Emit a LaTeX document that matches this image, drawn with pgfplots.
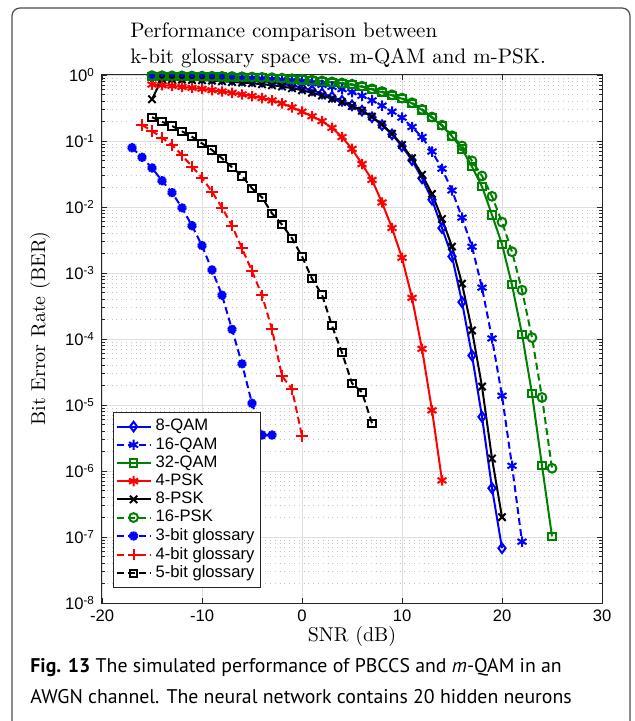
\documentclass[border=0pt]{standalone}
\usepackage{fontspec}
\setsansfont{Liberation Sans}
\newfontfamily\capfont{PT Sans}
\usepackage{pgfplots}
\pgfplotsset{compat=1.18}
\usetikzlibrary{plotmarks}
\definecolor{mgreen}{rgb}{0,0.5,0}
\definecolor{axgray}{rgb}{0.15,0.15,0.15}

\begin{document}
\begin{tikzpicture}
\path[use as bounding box] (0,0) rectangle (317.5pt,360.5pt);
\draw[black!70, line width=0.6pt, rounded corners=4pt]
  (6pt,-2pt) -- (6pt,356.5pt) -- (315pt,356.5pt) -- (315pt,-2pt);
\node[anchor=north west, inner sep=0pt, align=left,
      font=\fontsize{10.5}{13}\selectfont] at (65pt,349.5pt)
  {Performance comparison between\\k-bit glossary space vs.\ m-QAM and m-PSK.};

\begin{axis}[
    at={(51pt,59pt)}, anchor=south west,
    scale only axis, width=250pt, height=264pt,
    ymode=log, xmin=-20, xmax=30, ymin=1e-8, ymax=1,
    xtick={-20,-10,0,10,20,30},
    xticklabels={-20,-10,0,10,20,30},
    ytick={1e-8,1e-7,1e-6,1e-5,1e-4,1e-3,1e-2,1e-1,1},
    yticklabels={10\textsuperscript{-8},10\textsuperscript{-7},10\textsuperscript{-6},
                 10\textsuperscript{-5},10\textsuperscript{-4},10\textsuperscript{-3},
                 10\textsuperscript{-2},10\textsuperscript{-1},10\textsuperscript{0}},
    ticklabel style={font=\sffamily\fontsize{8.3}{9}\selectfont},
    tick align=inside, major tick length=2.5pt, minor tick length=1.5pt,
    axis line style={axgray, line width=0.5pt}, tick style={axgray, line width=0.4pt},
    xmajorgrids, ymajorgrids, yminorgrids,
    major grid style={gray!25, line width=0.4pt},
    minor grid style={gray!45, dotted, line width=0.4pt},
    xlabel={SNR (dB)}, ylabel={Bit Error Rate (BER)},
    label style={font=\fontsize{9.9}{11}\selectfont},
    every axis x label/.style={at={(axis description cs:0.5,0)}, anchor=center, yshift=-16.5pt},
    every axis y label/.style={at={(axis description cs:-0.124,0.52)}, rotate=90, anchor=center},
    legend style={at={(0.022,0.028)}, anchor=south west, draw=axgray, line width=0.5pt,
                  font=\sffamily\fontsize{8.3}{9.5}\selectfont, row sep=-2.2pt,
                  inner xsep=1pt, inner ysep=1.5pt},
    legend cell align=left,
    every axis plot/.append style={line width=1pt},
    mark options={solid},
  ]
% 8-QAM
\addplot[blue, mark=diamond, mark size=2.4pt] coordinates {
 (-15,0.916)(-14,0.912)(-13,0.908)(-12,0.902)(-11,0.895)(-10,0.887)(-9,0.877)(-8,0.865)
 (-7,0.851)(-6,0.836)(-5,0.817)(-4,0.794)(-3,0.767)(-2,0.733)(-1,0.692)(0,0.646)
 (1,0.589)(2,0.525)(3,0.468)(4,0.407)(5,0.347)(6,0.288)(7,0.229)(8,0.174)(9,0.126)
 (10,0.0832)(11,0.0513)(12,0.0272)(13,0.0129)(14,0.00479)(15,0.00178)(16,3.63e-4)
 (17,5.62e-5)(18,6.61e-6)(19,5.5e-7)(20,6.76e-8)};
% 16-QAM
\addplot[blue, dashed, dash pattern=on 3.5pt off 2pt, mark=asterisk, mark size=2.6pt] coordinates {
 (-15,0.944)(-14,0.942)(-13,0.939)(-12,0.936)(-11,0.932)(-10,0.927)(-9,0.92)(-8,0.912)
 (-7,0.904)(-6,0.895)(-5,0.885)(-4,0.871)(-3,0.855)(-2,0.836)(-1,0.813)(0,0.785)
 (1,0.75)(2,0.708)(3,0.661)(4,0.61)(5,0.55)(6,0.484)(7,0.412)(8,0.343)(9,0.278)
 (10,0.226)(11,0.163)(12,0.115)(13,0.0692)(14,0.038)(15,0.0178)(16,0.0069)(17,0.0025)
 (18,6.0e-4)(19,1.02e-4)(20,1.38e-5)(21,1.2e-6)(22,8.5e-8)};
% 32-QAM
\addplot[mgreen, mark=square, mark size=1.8pt] coordinates {
 (-15,0.955)(-14,0.955)(-13,0.953)(-12,0.951)(-11,0.946)(-10,0.942)(-9,0.938)(-8,0.933)
 (-7,0.927)(-6,0.920)(-5,0.912)(-4,0.902)(-3,0.891)(-2,0.875)(-1,0.859)(0,0.841)
 (1,0.820)(2,0.794)(3,0.767)(4,0.741)(5,0.708)(6,0.661)(7,0.603)(8,0.550)(9,0.490)
 (10,0.437)(11,0.372)(12,0.295)(13,0.226)(14,0.170)(15,0.1175)(16,0.0759)(17,0.0407)
 (18,0.0204)(19,0.00759)(20,0.00272)(21,6.61e-4)(22,1.18e-4)(23,1.48e-5)(24,1.2e-6)(25,1.02e-7)};
% 4-PSK
\addplot[red, mark=asterisk, mark size=2.6pt] coordinates {
 (-15,0.716)(-14,0.700)(-13,0.684)(-12,0.661)(-11,0.638)(-10,0.617)(-9,0.589)(-8,0.562)
 (-7,0.537)(-6,0.507)(-5,0.479)(-4,0.447)(-3,0.412)(-2,0.372)(-1,0.324)(0,0.278)
 (1,0.237)(2,0.20)(3,0.158)(4,0.115)(5,0.0759)(6,0.0447)(7,0.0257)(8,0.0117)(9,0.0048)
 (10,0.0017)(11,4.2e-4)(12,7.1e-5)(13,8.3e-6)(14,7.2e-7)};
% 8-PSK
\addplot[black, mark=x, mark size=2.6pt] coordinates {
 (-15,0.43)(-14,0.871)(-13,0.861)(-12,0.851)(-11,0.841)(-10,0.832)(-9,0.822)(-8,0.804)
 (-7,0.785)(-6,0.767)(-5,0.75)(-4,0.724)(-3,0.70)(-2,0.668)(-1,0.631)(0,0.589)
 (1,0.537)(2,0.49)(3,0.437)(4,0.389)(5,0.339)(6,0.288)(7,0.234)(8,0.178)(9,0.129)
 (10,0.0871)(11,0.055)(12,0.0309)(13,0.0158)(14,0.0066)(15,0.00251)(16,6.9e-4)
 (17,1.35e-4)(18,1.9e-5)(19,1.55e-6)(20,2.0e-7)};
% 16-PSK
\addplot[mgreen, dashed, dash pattern=on 3.5pt off 2pt, mark=o, mark size=2.2pt] coordinates {
 (-15,0.977)(-14,0.975)(-13,0.972)(-12,0.97)(-11,0.966)(-10,0.962)(-9,0.958)(-8,0.953)
 (-7,0.947)(-6,0.94)(-5,0.931)(-4,0.921)(-3,0.91)(-2,0.895)(-1,0.878)(0,0.86)
 (1,0.838)(2,0.812)(3,0.784)(4,0.757)(5,0.724)(6,0.676)(7,0.617)(8,0.562)(9,0.501)
 (10,0.447)(11,0.38)(12,0.302)(13,0.231)(14,0.174)(15,0.12)(16,0.084)(17,0.050)
 (18,0.0295)(19,0.0145)(20,0.0059)(21,0.0021)(22,5.5e-4)(23,1.05e-4)(24,1.3e-5)(25,1.1e-6)};
% 3-bit glossary
\addplot[blue, dashed, dash pattern=on 3.5pt off 2pt, mark=10-pointed star, mark size=2.3pt,
         mark options={solid, fill=blue}] coordinates {
 (-17,0.079)(-16,0.0566)(-15,0.039)(-14,0.025)(-13,0.0165)(-12,0.0097)(-11,0.0052)
 (-10,0.0026)(-9,0.00111)(-8,4.6e-4)(-7,1.4e-4)(-6,4.2e-5)(-5,1.06e-5)(-4,3.5e-6)(-3,3.5e-6)};
% 4-bit glossary
\addplot[red, dashed, dash pattern=on 3.5pt off 2pt, mark=+, mark size=2.8pt] coordinates {
 (-16,0.175)(-15,0.142)(-14,0.112)(-13,0.087)(-12,0.061)(-11,0.041)(-10,0.0278)(-9,0.017)
 (-8,0.0098)(-7,0.0052)(-6,0.00236)(-5,0.00107)(-4,4.6e-4)(-3,1.4e-4)(-2,2.75e-5)
 (-1,1.74e-5)(0,3.4e-6)};
% 5-bit glossary
\addplot[black, dashed, dash pattern=on 3.5pt off 2pt, mark=square, mark size=1.8pt] coordinates {
 (-15,0.229)(-14,0.196)(-13,0.169)(-12,0.14)(-11,0.116)(-10,0.092)(-9,0.073)(-8,0.0546)
 (-7,0.040)(-6,0.0295)(-5,0.0192)(-4,0.014)(-3,0.008)(-2,0.0054)(-1,0.00335)(0,0.00178)
 (1,8.2e-4)(2,4.7e-4)(3,1.58e-4)(4,6.2e-5)(5,2.13e-5)(6,1.56e-5)(7,5.3e-6)};
\legend{8-QAM,16-QAM,32-QAM,4-PSK,8-PSK,16-PSK,3-bit glossary,4-bit glossary,5-bit glossary}
\end{axis}

\node[anchor=west, inner sep=0pt, font=\capfont\fontsize{9.9}{11}\selectfont] at (15pt,26.5pt)
  {\textbf{Fig. 13} The simulated performance of PBCCS and \textit{m}-QAM in an};
\node[anchor=west, inner sep=0pt, font=\capfont\fontsize{9.9}{11}\selectfont] at (15pt,12pt)
  {AWGN channel. The neural network contains 20 hidden neurons};
\end{tikzpicture}
\end{document}
